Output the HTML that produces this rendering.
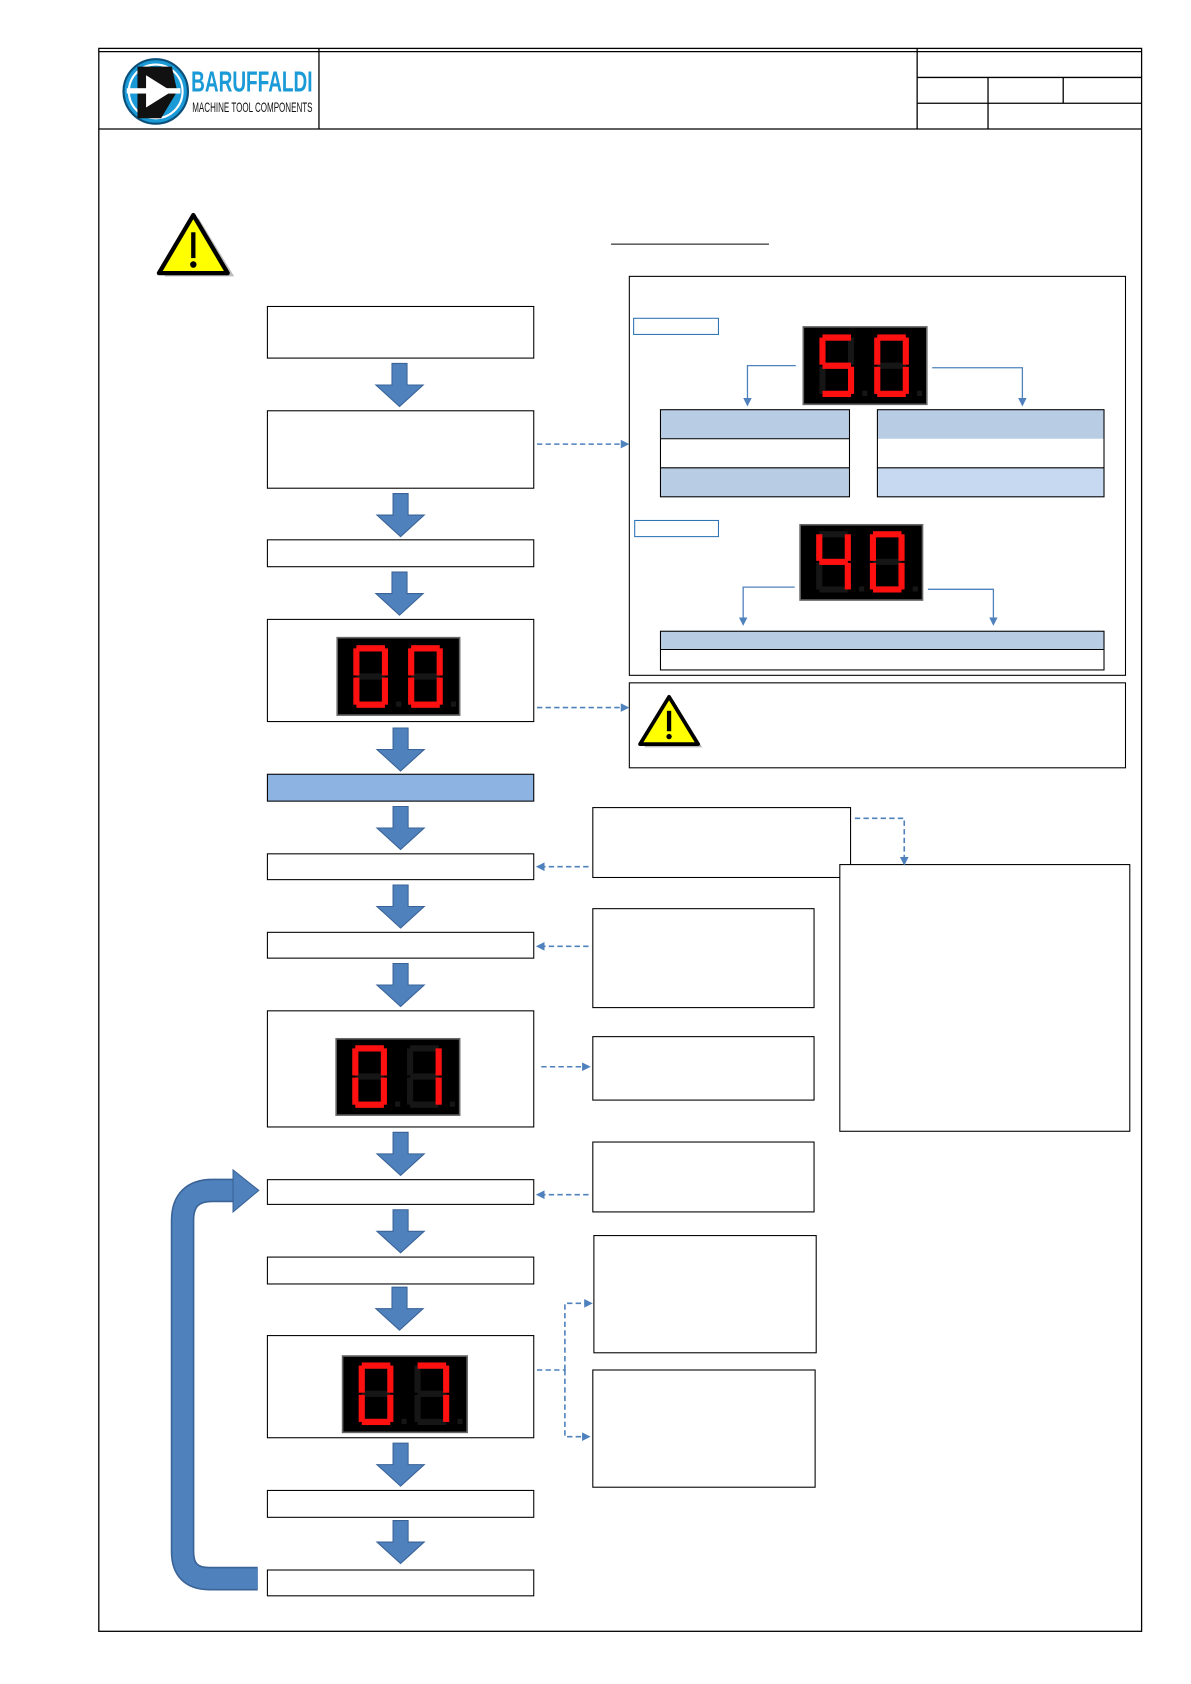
<!DOCTYPE html>
<html><head><meta charset="utf-8"><style>html,body{margin:0;padding:0;background:#fff}svg{display:block}</style></head>
<body>
<svg width="1191" height="1684" viewBox="0 0 1109 1566" preserveAspectRatio="none" xmlns="http://www.w3.org/2000/svg">
<defs>
<g id="sa"><rect x="3" y="0" width="28" height="6"/></g>
<g id="sb"><rect x="28" y="3" width="6" height="26"/></g>
<g id="sc"><rect x="28" y="31" width="6" height="26"/></g>
<g id="sd"><rect x="3" y="54" width="28" height="6"/></g>
<g id="se"><rect x="0" y="31" width="6" height="26"/></g>
<g id="sf"><rect x="0" y="3" width="6" height="26"/></g>
<g id="sg"><rect x="3" y="27" width="28" height="6"/></g>
<g id="off" fill="#161616"><use href="#sa"/><use href="#sb"/><use href="#sc"/><use href="#sd"/><use href="#se"/><use href="#sf"/><use href="#sg"/><rect x="42" y="54" width="5" height="5"/></g>
<g id="d0"><use href="#off"/><g fill="#ff1010"><use href="#sa"/><use href="#sb"/><use href="#sc"/><use href="#sd"/><use href="#se"/><use href="#sf"/></g></g>
<g id="d1"><use href="#off"/><g fill="#ff1010"><use href="#sb"/><use href="#sc"/></g></g>
<g id="d4"><use href="#off"/><g fill="#ff1010"><use href="#sb"/><use href="#sc"/><use href="#sf"/><use href="#sg"/></g></g>
<g id="d5"><use href="#off"/><g fill="#ff1010"><use href="#sa"/><use href="#sc"/><use href="#sd"/><use href="#sf"/><use href="#sg"/></g></g>
<g id="d7"><use href="#off"/><g fill="#ff1010"><use href="#sa"/><use href="#sb"/><use href="#sc"/></g></g>
<g id="arr"><polygon points="-7,0 7,0 7,20 22,20 0,40 -22,20 -7,20" fill="#4f81bd" stroke="#3a6397" stroke-width="1"/></g>
<marker id="mh" markerWidth="8" markerHeight="8" refX="6" refY="4" orient="auto" markerUnits="userSpaceOnUse"><path d="M0,0 L8,4 L0,8 z" fill="#4f81bd"/></marker>
</defs>

<g fill="none" stroke="#000" stroke-width="1.2">
<rect x="92" y="45" width="971" height="1472"/>
<line x1="92" y1="48" x2="1063" y2="48"/>
<line x1="92" y1="120" x2="1063" y2="120"/>
<line x1="297" y1="45" x2="297" y2="120"/>
<line x1="854" y1="45" x2="854" y2="120"/>
<line x1="854" y1="72" x2="1063" y2="72"/>
<line x1="854" y1="96" x2="1063" y2="96"/>
<line x1="920" y1="72" x2="920" y2="120"/>
<line x1="990" y1="72" x2="990" y2="96"/>
</g>
<circle cx="145" cy="85" r="30" fill="#1a9ad6" stroke="#0a4f7a" stroke-width="2"/>
<circle cx="145" cy="85" r="25" fill="none" stroke="#fff" stroke-width="2"/>
<polygon points="128,62 160,62 165,85 150,110 128,110" fill="#111"/>
<polygon points="136,70 160,85 136,100" fill="#fff"/>
<rect x="118" y="82" width="50" height="5" fill="#fff"/>
<text x="178" y="85" font-family="Liberation Sans Narrow, Liberation Sans, sans-serif" font-weight="bold" font-size="27" fill="#1a9ad6" textLength="113" lengthAdjust="spacingAndGlyphs">BARUFFALDI</text>
<text x="179" y="104" font-family="Liberation Sans Narrow, Liberation Sans, sans-serif" font-size="13" fill="#111" textLength="112" lengthAdjust="spacingAndGlyphs">MACHINE TOOL COMPONENTS</text>

<polygon points="182,202 215,256 150,256" fill="#bbb" transform="translate(3,1)"/>
<polygon points="180,200 212,254 148,254" fill="#ffff00" stroke="#000" stroke-width="4" stroke-linejoin="round"/>
<rect x="178" y="216" width="4" height="24" fill="#000"/><circle cx="180" cy="246" r="3" fill="#000"/>
<line x1="569" y1="227" x2="716" y2="227" stroke="#000" stroke-width="1"/>

<rect x="586" y="257" width="462" height="371" fill="none" stroke="#000" stroke-width="1"/>
<rect x="590" y="296" width="79" height="15" fill="none" stroke="#2e75b6" stroke-width="1"/>
<rect x="591" y="484" width="78" height="15" fill="none" stroke="#2e75b6" stroke-width="1"/>
<rect x="748" y="304" width="115" height="72" fill="#000" stroke="#666" stroke-width="1.5"/>
<use href="#d5" transform="translate(763,311) scale(0.95,0.97)"/>
<use href="#d0" transform="translate(814,311) scale(0.95,0.97)"/>
<g fill="none" stroke="#4f81bd" stroke-width="1.2">
<polyline points="741,340 696,340 696,376" marker-end="url(#mh)"/>
<polyline points="868,342 952,342 952,376" marker-end="url(#mh)"/>
<polyline points="740,546 692,546 692,580" marker-end="url(#mh)"/>
<polyline points="864,548 925,548 925,580" marker-end="url(#mh)"/>
</g>
<rect x="615" y="381" width="176" height="27" fill="#b8cce4"/>
<rect x="615" y="435" width="176" height="27" fill="#b8cce4"/>
<rect x="615" y="381" width="176" height="81" fill="none" stroke="#000"/>
<line x1="615" y1="408" x2="791" y2="408" stroke="#000"/><line x1="615" y1="435" x2="791" y2="435" stroke="#000"/>
<rect x="817" y="381" width="211" height="27" fill="#b8cce4"/>
<rect x="817" y="435" width="211" height="27" fill="#c6d9f0"/>
<rect x="817" y="381" width="211" height="81" fill="none" stroke="#000"/>
<line x1="817" y1="435" x2="1028" y2="435" stroke="#000"/>
<rect x="745" y="488" width="114" height="70" fill="#000" stroke="#666" stroke-width="1.5"/>
<use href="#d4" transform="translate(760,494) scale(0.95,0.95)"/>
<use href="#d0" transform="translate(810,494) scale(0.95,0.95)"/>
<rect x="615" y="587" width="413" height="17" fill="#b8cce4"/>
<rect x="615" y="587" width="413" height="36" fill="none" stroke="#000"/>
<line x1="615" y1="604" x2="1028" y2="604" stroke="#000"/>
<rect x="586" y="635" width="462" height="79" fill="none" stroke="#000"/>
<polygon points="625,650 652,694 598,694" fill="#bbb" transform="translate(2,1)"/>
<polygon points="623,648 650,692 596,692" fill="#ffff00" stroke="#000" stroke-width="3.5" stroke-linejoin="round"/>
<rect x="621" y="661" width="4" height="19" fill="#000"/><circle cx="623" cy="685" r="2.5" fill="#000"/>

<g fill="#fff" stroke="#000" stroke-width="1">
<rect x="249" y="285" width="248" height="48"/>
<rect x="249" y="382" width="248" height="72"/>
<rect x="249" y="502" width="248" height="25"/>
<rect x="249" y="576" width="248" height="95"/>
<rect x="249" y="720" width="248" height="25" fill="#8db3e2"/>
<rect x="249" y="794" width="248" height="24"/>
<rect x="249" y="867" width="248" height="24"/>
<rect x="249" y="940" width="248" height="108"/>
<rect x="249" y="1097" width="248" height="23"/>
<rect x="249" y="1169" width="248" height="25"/>
<rect x="249" y="1242" width="248" height="95"/>
<rect x="249" y="1386" width="248" height="25"/>
<rect x="249" y="1460" width="248" height="24"/>
<rect x="552" y="751" width="240" height="65"/>
<rect x="552" y="845" width="206" height="92"/>
<rect x="552" y="964" width="206" height="59"/>
<rect x="552" y="1062" width="206" height="65"/>
<rect x="553" y="1149" width="207" height="109"/>
<rect x="552" y="1274" width="207" height="109"/>
<rect x="782" y="804" width="270" height="248"/>
</g>
<rect x="314" y="593" width="114" height="72" fill="#000" stroke="#666" stroke-width="1.5"/>
<use href="#d0" transform="translate(329,600) scale(0.95,0.97)"/>
<use href="#d0" transform="translate(380,600) scale(0.95,0.97)"/>
<rect x="313" y="966" width="115" height="71" fill="#000" stroke="#666" stroke-width="1.5"/>
<use href="#d0" transform="translate(328,972) scale(0.95,0.97)"/>
<use href="#d1" transform="translate(379,972) scale(0.95,0.97)"/>
<rect x="319" y="1261" width="116" height="71" fill="#000" stroke="#666" stroke-width="1.5"/>
<use href="#d0" transform="translate(334,1267) scale(0.95,0.97)"/>
<use href="#d7" transform="translate(386,1267) scale(0.95,0.97)"/>

<use href="#arr" transform="translate(372,338)"/>
<use href="#arr" transform="translate(373,459)"/>
<use href="#arr" transform="translate(372,532)"/>
<use href="#arr" transform="translate(373,677)"/>
<use href="#arr" transform="translate(373,750)"/>
<use href="#arr" transform="translate(373,823)"/>
<use href="#arr" transform="translate(373,896)"/>
<use href="#arr" transform="translate(373,1053)"/>
<use href="#arr" transform="translate(373,1125)"/>
<use href="#arr" transform="translate(372,1197)"/>
<use href="#arr" transform="translate(373,1342)"/>
<use href="#arr" transform="translate(373,1414)"/>

<g fill="none" stroke="#4f81bd" stroke-width="1.5" stroke-dasharray="5,3">
<line x1="500" y1="413" x2="584" y2="413" marker-end="url(#mh)"/>
<line x1="500" y1="658" x2="584" y2="658" marker-end="url(#mh)"/>
<line x1="548" y1="806" x2="501" y2="806" marker-end="url(#mh)"/>
<line x1="548" y1="880" x2="501" y2="880" marker-end="url(#mh)"/>
<line x1="504" y1="992" x2="548" y2="992" marker-end="url(#mh)"/>
<line x1="548" y1="1111" x2="501" y2="1111" marker-end="url(#mh)"/>
<polyline points="500,1274 526,1274"/>
<polyline points="526,1274 526,1212 550,1212" marker-end="url(#mh)"/>
<polyline points="526,1274 526,1336 548,1336" marker-end="url(#mh)"/>
<polyline points="796,761 842,761 842,803" marker-end="url(#mh)"/>
</g>

<path d="M240,1468 L195,1468 Q170,1468 170,1443 L170,1135 Q170,1107 198,1107 L220,1107" fill="none" stroke="#3a6397" stroke-width="22"/>
<path d="M240,1468 L195,1468 Q170,1468 170,1443 L170,1135 Q170,1107 198,1107 L220,1107" fill="none" stroke="#4f81bd" stroke-width="19"/>
<polygon points="217,1088 241,1107 217,1127" fill="#4f81bd" stroke="#3a6397" stroke-width="1"/>
</svg>
</body></html>
